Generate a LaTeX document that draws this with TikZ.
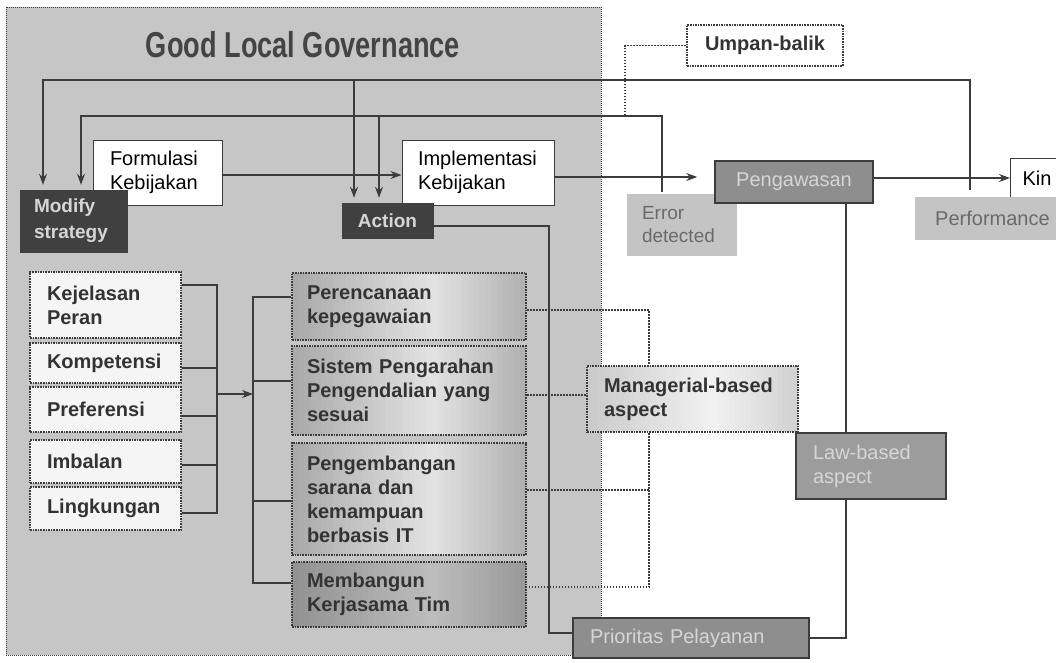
\documentclass[tikz,border=0pt]{standalone}
\usepackage{fontspec}
\usepackage{graphicx}
\setmainfont{Liberation Sans}
\usetikzlibrary{arrows.meta,calc}
\definecolor{lineclr}{HTML}{3C3C3C}
\definecolor{glgfill}{HTML}{C6C6C6}
\definecolor{darkfill}{HTML}{404040}
\definecolor{midfill}{HTML}{8E8E8E}
\definecolor{lawfill}{HTML}{9C9C9C}
\definecolor{lightfill}{HTML}{C4C4C4}
\definecolor{txtdark}{HTML}{333333}
\definecolor{txtlight}{HTML}{D6D6D6}
\definecolor{txtgrey}{HTML}{6A6A6A}
\definecolor{titleclr}{HTML}{444444}
\tikzset{
  ln/.style={draw=lineclr, line width=1.1pt},
  arr/.style={ln, -{Stealth[length=11pt,width=8pt]}},
  dotln/.style={draw=lineclr, line width=1.1pt, dash pattern=on 1.5pt off 1.5pt},
  txt/.style={font=\fontsize{20}{24}\selectfont, align=left, inner ysep=0pt},
  btxt/.style={font=\fontsize{20}{24}\selectfont\bfseries, align=left, inner ysep=0pt},
  gradbox/.style n args={3}{path picture={
    \foreach \gi in {0,...,39}{
      \pgfmathsetmacro\gT{(\gi+0.5)/40}
      \pgfmathsetmacro\gV{\gT<0.6 ? #1+(#2-#1)*\gT/0.6 : #2+(#3-#2)*(\gT-0.6)/0.4}
      \fill[gray!\gV]
        ($(path picture bounding box.south west)!{\gi/40}!(path picture bounding box.south east)$)
        rectangle
        ($(path picture bounding box.north west)!{(\gi+1.4)/40}!(path picture bounding box.north east)$);
    }}},
  glgbox/.style={fill=glgfill, draw=lineclr, line width=1pt, dash pattern=on 1pt off 1pt, inner sep=0pt},
  wbox/.style={txt, draw=lineclr, line width=1pt, fill=white, text=black},
  darkbox/.style={font=\fontsize{19}{26}\selectfont\bfseries, align=left, inner ysep=0pt, fill=darkfill, draw=darkfill, text=txtlight},
  midbox/.style={txt, fill=midfill, draw=lineclr, line width=1.5pt, text=txtlight},
  softbox/.style={font=\fontsize{19}{23}\selectfont, align=left, inner ysep=0pt, fill=lightfill, text=txtgrey},
  dotbox/.style={btxt, draw=lineclr, line width=2.2pt, dash pattern=on 1.6pt off 1pt, fill=white, text=txtdark},
  leftbox/.style={dotbox, fill=white!96!black, text width=117pt, inner xsep=17pt, minimum width=151pt},
  centbox/.style={btxt, draw=lineclr, line width=2.2pt, dash pattern=on 1.6pt off 1pt, text=txtdark,
    fill=gray!50, gradbox={68}{22}{62}, text width=204pt, inner xsep=15pt, minimum width=234pt},
  centdark/.style={centbox, gradbox={86}{52}{80}},
}
\begin{document}
\begin{tikzpicture}[x=1pt,y=-1pt]
\useasboundingbox (0,0) rectangle (1056,662);
\clip (0,0) rectangle (1056,662);
\fill[white] (0,0) rectangle (1056,662);

% main grey panel
\node[glgbox, minimum width=595pt, minimum height=648pt] (glg) at (303.5,331) {};
\node[font=\fontsize{36}{40}\selectfont\bfseries, text=titleclr, inner sep=0pt] (title) at (303,45)
  {\scalebox{0.755}[1]{Good Local Governance}};

% top row
\node[dotbox, align=center, minimum width=156pt, minimum height=41pt] (umpan) at (765,45.5) {Umpan-balik};
\node[wbox, text width=95pt, inner xsep=17pt, minimum width=129pt, minimum height=65pt] (formulasi) at (157.5,172.5) {Formulasi\\Kebijakan};
\node[wbox, text width=120pt, inner xsep=16pt, minimum width=152pt, minimum height=65pt] (implementasi) at (478,172.5) {Implementasi\\Kebijakan};
\node[darkbox, text width=79pt, inner xsep=14pt, minimum width=107pt, minimum height=62pt] (modify) at (73.5,221) {Modify\\strategy};
\node[darkbox, align=center, minimum width=91pt, minimum height=35pt] (action) at (387.5,220.5) {Action};
\node[softbox, text width=80pt, inner xsep=15pt, minimum width=110pt, minimum height=62pt] (error) at (682,225) {Error\\detected};
\node[midbox, align=center, minimum width=158pt, minimum height=42pt] (pengawasan) at (794,182) {Pengawasan};
\node[wbox, anchor=west, text width=50pt, inner xsep=12pt, minimum height=40pt] (kin) at (1010,178) {Kin};
\node[softbox, font=\fontsize{20}{24}\selectfont, anchor=west, text width=130pt, inner xsep=20pt, minimum height=43pt] (performance) at (915,218.5) {Performance};

% left column
\node[leftbox, minimum height=66pt] (kej) at (105.5,305) {Kejelasan\\Peran};
\node[leftbox, minimum height=40pt] (komp) at (105.5,363) {Kompetensi};
\node[leftbox, minimum height=45pt] (pref) at (105.5,409.5) {Preferensi};
\node[leftbox, minimum height=43pt] (imb) at (105.5,461.5) {Imbalan};
\node[leftbox, minimum height=43pt] (ling) at (105.5,508.5) {Lingkungan};

% middle column
\node[centbox, minimum height=67pt] (per) at (409,306.5) {Perencanaan\\kepegawaian};
\node[centbox, minimum height=89pt] (sis) at (409,390.5) {Sistem Pengarahan\\Pengendalian yang\\sesuai};
\node[centbox, minimum height=112pt] (peng) at (409,499) {Pengembangan\\sarana dan\\kemampuan\\berbasis IT};
\node[centdark, minimum height=65pt] (mem) at (409,594.5) {Membangun\\Kerjasama Tim};

% right side
\node[btxt, draw=lineclr, line width=2pt, dash pattern=on 1.6pt off 1pt, text=txtdark,
  fill=gray!30, gradbox={42}{10}{36},
  text width=177pt, inner xsep=17pt, minimum width=211pt, minimum height=66pt] (manag) at (692.5,399) {Managerial-based\\aspect};
\node[txt, fill=lawfill, draw=lineclr, line width=1.5pt, text=txtlight,
  text width=116pt, inner xsep=17pt, minimum width=150pt, minimum height=66pt] (law) at (871,466) {Law-based\\aspect};
\node[midbox, text width=202pt, inner xsep=17pt, minimum width=236pt, minimum height=40pt] (prio) at (691,638) {Prioritas Pelayanan};

% helper coordinates
\coordinate (t1) at (970,80);
\coordinate (t2) at (662,116);
\coordinate (u1) at (625,116);
\coordinate (m1) at ([xshift=-30.5pt]modify.north);
\coordinate (m2) at ([xshift=7.5pt]modify.north);
\coordinate (a1) at ([xshift=-33.5pt]action.north);
\coordinate (a2) at ([xshift=-8.5pt]action.north);

% feedback loops
\draw[arr, shorten <=7pt, shorten >=5pt] (t1 |- performance.north) -- (t1) -| (m1);
\draw[arr, shorten >=5pt] (a1 |- t1) -- (a1);
\draw[arr, shorten <=2pt, shorten >=5pt] (t2 |- error.north) -- (t2) -| (m2);
\draw[arr, shorten >=5pt] (a2 |- t2) -- (a2);
\draw[dotln] (umpan.west) -| (u1);

% main flow
\coordinate (fe) at ([yshift=-2.5pt]formulasi.east);
\draw[arr] (fe) -- (fe -| implementasi.west);
\coordinate (ie) at ([yshift=-4.5pt]implementasi.east);
\draw[arr, shorten >=17pt] (ie) -- (ie -| pengawasan.west);
\draw[arr] (pengawasan.east |- kin.west) -- (kin.west);

% left bus
\coordinate (bx) at (217,0);
\coordinate (k1) at ([yshift=20pt]kej.east);
\coordinate (k2) at ([yshift=-5pt]komp.east);
\coordinate (k3) at ([yshift=-6.5pt]pref.east);
\coordinate (k4) at ([yshift=-3.5pt]imb.east);
\coordinate (k5) at ([yshift=-4.5pt]ling.east);
\draw[ln] (k1) -| (bx |- k5) -- (k5);
\draw[ln] (k2) -- (k2 -| bx);
\draw[ln] (k3) -- (k3 -| bx);
\draw[ln] (k4) -- (k4 -| bx);
\coordinate (bm) at (217,394);
\coordinate (bn) at (253,394);
\draw[arr] (bm) -- (bn);

% middle bus
\coordinate (bx2) at (253,0);
\coordinate (c1) at ([yshift=9.5pt]per.west);
\coordinate (c2) at ([yshift=9.5pt]sis.west);
\coordinate (c3) at ([yshift=-2pt]peng.west);
\coordinate (c4) at ([yshift=11.5pt]mem.west);
\draw[ln] (c1) -| (bx2 |- c4) -- (c4);
\draw[ln] (c2) -- (c2 -| bx2);
\draw[ln] (c3) -- (c3 -| bx2);

% right dotted bracket to managerial aspect
\coordinate (dx) at (649,0);
\coordinate (d1) at ([yshift=-3.5pt]per.east);
\coordinate (d2) at ([yshift=-4.5pt]sis.east);
\coordinate (d3) at ([yshift=9pt]peng.east);
\coordinate (d4) at ([yshift=7.5pt]mem.east);
\draw[dotln] (d1) -| (dx |- manag.north);
\draw[dotln] (d2) -- (d2 -| manag.west);
\draw[dotln] (d3) -- (d3 -| dx);
\draw[dotln] (dx |- manag.south) |- (d4);

% action to prioritas
\coordinate (ax) at (549,0);
\coordinate (ae) at ([yshift=-5.5pt]action.east);
\coordinate (pw) at ([yshift=5pt]prio.west);
\draw[ln] (ae) -| (ax |- pw) -- (pw);

% pengawasan - law - prioritas
\coordinate (lx) at (846,0);
\draw[ln] (lx |- pengawasan.south) -- (lx |- law.north);
\draw[ln] (lx |- law.south) |- (prio.east);
\end{tikzpicture}
\end{document}
